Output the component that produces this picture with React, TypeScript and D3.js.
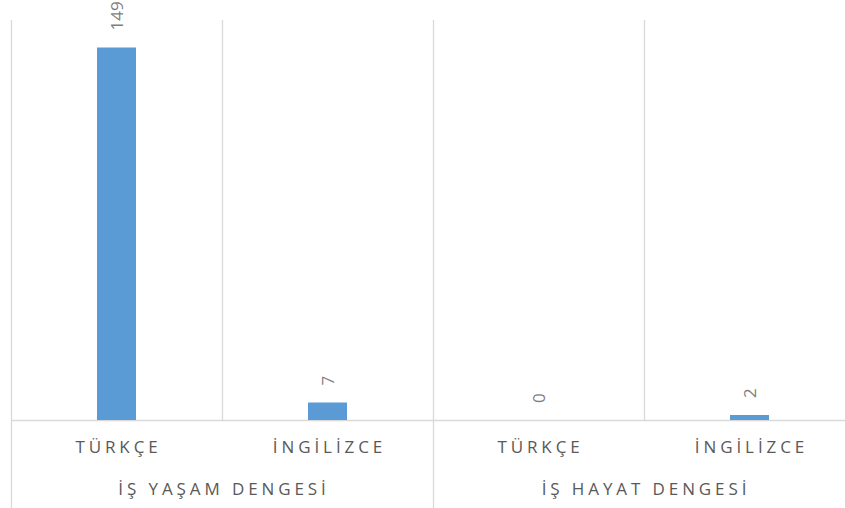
import React, { useEffect, useRef } from 'react'
import * as d3 from 'd3'

const groups = ['İŞ YAŞAM DENGESİ', 'İŞ HAYAT DENGESİ']
const languages = ['TÜRKÇE', 'İNGİLİZCE']
const yasamValues = [149, 7]
const hayatValues = [0, 2]

const W = 845
const H = 508

export default function App() {
  const ref = useRef<SVGSVGElement>(null)

  useEffect(() => {
    const svg = d3.select(ref.current)
    svg.selectAll('*').remove()

    const left = 11, right = 855, top = 20, base = 420
    const rows = [yasamValues, hayatValues]
    const data = groups.flatMap((g, gi) =>
      languages.map((l, li) => ({ group: g, lang: l, value: rows[gi][li] })))

    const x0 = d3.scaleBand().domain(groups).range([left, right])
    const x1 = d3.scaleBand().domain(languages).range([0, x0.bandwidth()])
    const y = d3.scaleLinear().domain([0, 160]).range([base, top])
    const barW = 39
    const font = '"Open Sans", sans-serif'
    const grid = '#d9d9d9'

    // category dividers
    groups.forEach(g => {
      languages.forEach((l, li) => {
        const xx = x0(g)! + x1(l)!
        svg.append('line')
          .attr('x1', xx + 0.5).attr('x2', xx + 0.5)
          .attr('y1', top).attr('y2', li === 0 ? H : base)
          .attr('stroke', grid).attr('stroke-width', 1.3)
      })
    })
    svg.append('line')
      .attr('x1', left).attr('x2', right)
      .attr('y1', base + 0.5).attr('y2', base + 0.5)
      .attr('stroke', grid).attr('stroke-width', 1.3)

    const cx = (d: any) => x0(d.group)! + x1(d.lang)! + x1.bandwidth() / 2

    svg.selectAll('.bar').data(data).enter().append('rect')
      .attr('x', d => cx(d) - barW / 2)
      .attr('y', d => y(d.value))
      .attr('width', barW)
      .attr('height', d => base - y(d.value))
      .attr('fill', '#5b9bd5')

    svg.selectAll('.val').data(data).enter().append('text')
      .attr('transform', d => `translate(${cx(d)},${y(d.value) - 17}) rotate(-90)`)
      .attr('dominant-baseline', 'central')
      .attr('font-family', font).attr('font-size', 17)
      .attr('fill', '#7f7f7f')
      .text(d => d.value)

    svg.selectAll('.cat').data(data).enter().append('text')
      .attr('x', d => cx(d) + 2)
      .attr('y', 453)
      .attr('text-anchor', 'middle')
      .attr('font-family', font).attr('font-size', 17)
      .attr('letter-spacing', 3.9)
      .attr('fill', '#595959')
      .text(d => d.lang)

    svg.selectAll('.grp').data(groups).enter().append('text')
      .attr('x', d => x0(d)! + x0.bandwidth() / 2 + 2)
      .attr('y', 495)
      .attr('text-anchor', 'middle')
      .attr('font-family', font).attr('font-size', 17)
      .attr('letter-spacing', 3.9)
      .attr('fill', '#595959')
      .text(d => d)
  }, [])

  return (
    <svg ref={ref} width={W} height={H}
      style={{ position: 'absolute', left: 0, top: 0, background: '#fff' }} />
  )
}
